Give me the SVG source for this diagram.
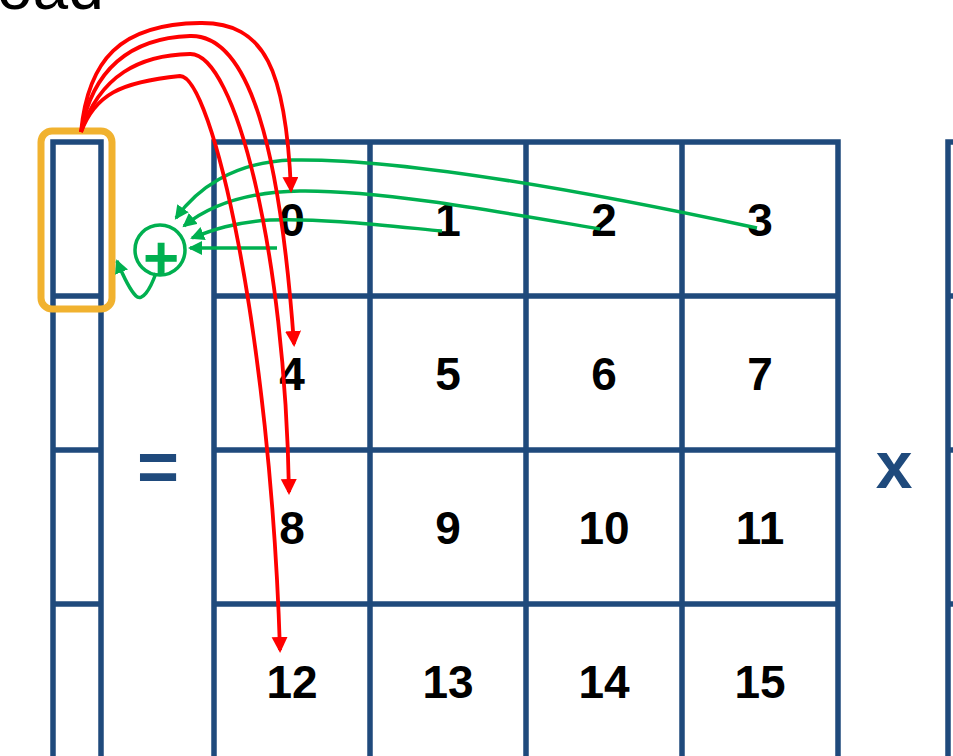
<svg xmlns="http://www.w3.org/2000/svg" width="953" height="756" viewBox="0 0 953 756">
<style>
.grid{stroke:#1F4A7C;stroke-width:5.5;stroke-linecap:square;fill:none}
.num{font-family:"Liberation Sans",Arial,sans-serif;font-weight:bold;font-size:46px;fill:#000;text-anchor:middle}
.op{font-family:"Liberation Sans",Arial,sans-serif;font-weight:bold;fill:#1F4A7C;text-anchor:middle}
.g{stroke:#00B050;stroke-width:3.5;fill:none}
.r{stroke:#FF0000;stroke-width:3.8;fill:none}
</style>
<defs>
<marker id="ag" markerUnits="userSpaceOnUse" markerWidth="16" markerHeight="14" refX="12" refY="7" orient="auto">
<path d="M0,0 L14,7 L0,14 z" fill="#00B050"/>
</marker>
<marker id="ar" markerUnits="userSpaceOnUse" markerWidth="17" markerHeight="17" refX="13" refY="8" orient="auto">
<path d="M0,0 L16,8 L0,16 z" fill="#FF0000"/>
</marker>
</defs>
<rect width="953" height="756" fill="#fff"/>
<text x="-3" y="9" font-family="'Liberation Sans',Arial,sans-serif" font-size="64" fill="#000">oad</text>

<g id="vector-c">
<path class="grid" d="M53 142 V780 M101 142 V780 M53 142 H101 M53 296 H101 M53 450 H101 M53 604 H101"/>
</g>
<g id="highlight">
<rect x="41" y="131" width="71" height="178" rx="11" fill="none" stroke="#F1B22F" stroke-width="7"/>
</g>
<g id="equals"><text class="op" x="158" y="491" font-size="72">=</text></g>
<g id="matrix-a">
<path class="grid" d="M214 142 V780 M370 142 V780 M526 142 V780 M682 142 V780 M838 142 V780 M214 142 H838 M214 296 H838 M214 450 H838 M214 604 H838"/>
<text class="num" x="292" y="236">0</text>
<text class="num" x="448" y="236">1</text>
<text class="num" x="604" y="236">2</text>
<text class="num" x="760" y="236">3</text>
<text class="num" x="292" y="390">4</text>
<text class="num" x="448" y="390">5</text>
<text class="num" x="604" y="390">6</text>
<text class="num" x="760" y="390">7</text>
<text class="num" x="292" y="544">8</text>
<text class="num" x="448" y="544">9</text>
<text class="num" x="604" y="544">10</text>
<text class="num" x="760" y="544">11</text>
<text class="num" x="292" y="698">12</text>
<text class="num" x="448" y="698">13</text>
<text class="num" x="604" y="698">14</text>
<text class="num" x="760" y="698">15</text>
</g>
<g id="times"><text class="op" x="894" y="488" font-size="66">x</text></g>
<g id="matrix-b">
<path class="grid" d="M948 142 V780 M948 142 H960 M948 296 H960 M948 450 H960 M948 604 H960"/>
</g>
<g id="sum">
<circle cx="160" cy="250" r="25" fill="#fff" stroke="#00B050" stroke-width="3.5"/>
<text x="161" y="279" font-family="'Liberation Sans',Arial,sans-serif" font-weight="bold" font-size="62" fill="#00B050" text-anchor="middle">+</text>
</g>
<g id="connectors">
<path class="g" marker-end="url(#ag)" d="M757 228 C580 190, 400 158, 292 160 C232 162, 196 190, 176 218"/>
<path class="g" marker-end="url(#ag)" d="M600 229 C500 212, 380 190, 300 191 C240 192, 206 208, 184 226"/>
<path class="g" marker-end="url(#ag)" d="M442 231 C380 225, 320 218, 270 220 C235 222, 212 230, 192 238"/>
<path class="g" marker-end="url(#ag)" d="M277 248 L190 248"/>
<path class="g" marker-end="url(#ag)" d="M156 273 C150 290, 142 302, 136 296 C130 290, 124 278, 117 261"/>
<path class="r" marker-end="url(#ar)" d="M81 132 C88 60, 120 24, 200 23 C265 22, 286 70, 291 190"/>
<path class="r" marker-end="url(#ar)" d="M81 132 C92 70, 130 38, 190 36 C250 34, 280 150, 294 344"/>
<path class="r" marker-end="url(#ar)" d="M81 132 C100 75, 140 55, 190 54 C235 53, 285 250, 289 492"/>
<path class="r" marker-end="url(#ar)" d="M81 132 C95 95, 120 82, 180 76 C212 76, 270 330, 280 650"/>
</g>
</svg>
